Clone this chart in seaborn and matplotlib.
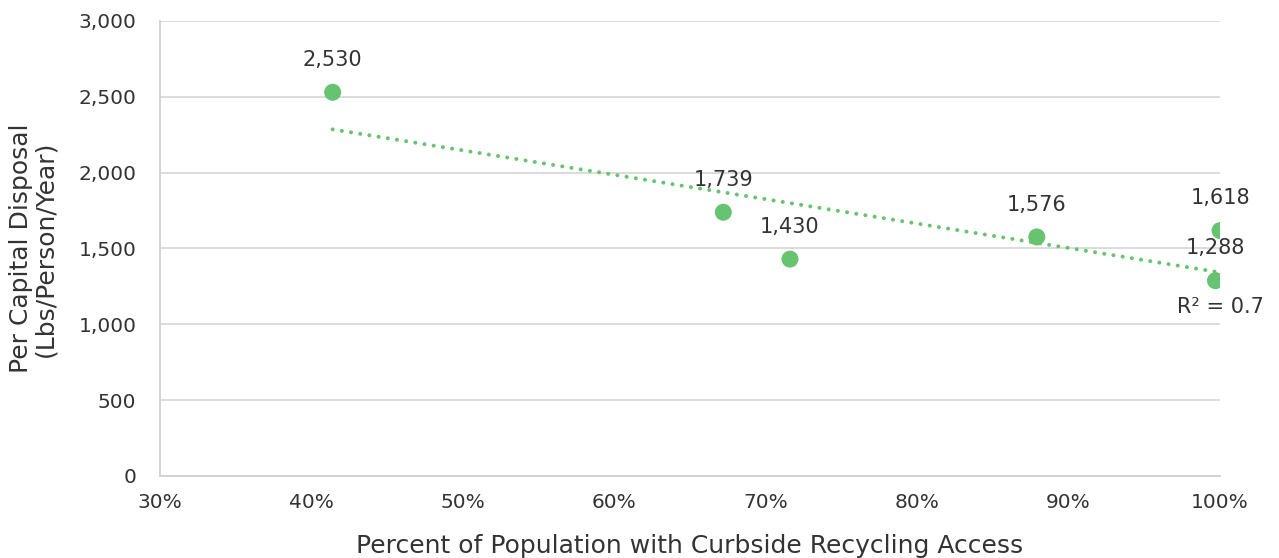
import numpy as np
import pandas as pd
import matplotlib
matplotlib.use("Agg")
import matplotlib.pyplot as plt
import seaborn as sns
from matplotlib.ticker import FuncFormatter

# Data
access_pct = [41.4, 67.2, 71.6, 87.9, 100.0, 99.7]
disposal = [2530, 1739, 1430, 1576, 1618, 1288]
labels = ["2,530", "1,739", "1,430", "1,576", "1,618", "1,288"]
x_ticks = [30, 40, 50, 60, 70, 80, 90, 100]
y_ticks = [0, 500, 1000, 1500, 2000, 2500, 3000]

df = pd.DataFrame({"access": access_pct, "disposal": disposal})

sns.set_theme(style="white")
plt.rcParams['font.family'] = ['DejaVu Sans']

green = "#66C470"
txt = "#333333"
fig = plt.figure(figsize=(12.79, 5.58), dpi=100)
ax = fig.add_axes([0.1251, 0.147, 0.8288, 0.8154])

sns.regplot(data=df, x="access", y="disposal", ax=ax, scatter=False, ci=None,
            truncate=True, color=green,
            line_kws=dict(linestyle=(0, (0.01, 2.3)), linewidth=2.9, dash_capstyle="round"))
sns.scatterplot(data=df, x="access", y="disposal", ax=ax, color=green, s=150,
                edgecolor="none", zorder=3)

for xv, yv, lab in zip(access_pct, disposal, labels):
    ax.annotate(lab, (xv, yv), xytext=(0, 16), textcoords="offset points",
                ha="center", va="bottom", fontsize=15, color=txt)

# R^2
slope, intercept = np.polyfit(access_pct, disposal, 1)
pred = np.polyval([slope, intercept], access_pct)
r2 = 1 - np.sum((np.array(disposal) - pred) ** 2) / np.sum((np.array(disposal) - np.mean(disposal)) ** 2)
ax.annotate(f"R² = {r2:.1f}", (max(access_pct), np.polyval([slope, intercept], max(access_pct))),
            xytext=(0, -18), textcoords="offset points", ha="center", va="top",
            fontsize=15, color=txt)

ax.set_xlim(30, 100)
ax.set_ylim(0, 3000)
ax.set_xticks(x_ticks)
ax.set_yticks(y_ticks)
ax.xaxis.set_major_formatter(FuncFormatter(lambda v, p: f"{v:.0f}%"))
ax.yaxis.set_major_formatter(FuncFormatter(lambda v, p: f"{v:,.0f}"))
ax.tick_params(axis="both", length=0, labelsize=14.5, labelcolor=txt)
ax.tick_params(axis="x", pad=12)
ax.tick_params(axis="y", pad=17)
ax.grid(axis="y", color="#D9D9D9", linewidth=1.3)
ax.set_axisbelow(True)
for s in ["top", "right"]:
    ax.spines[s].set_visible(False)
for s in ["left", "bottom"]:
    ax.spines[s].set_color("#D0D0D0")
    ax.spines[s].set_linewidth(1.3)

ax.set_xlabel("Percent of Population with Curbside Recycling Access", fontsize=18,
              color=txt, labelpad=16)
ax.set_ylabel("Per Capital Disposal\n(Lbs/Person/Year)", fontsize=18, color=txt,
              labelpad=15, linespacing=1.05)

fig.savefig("out.png", dpi=100)
